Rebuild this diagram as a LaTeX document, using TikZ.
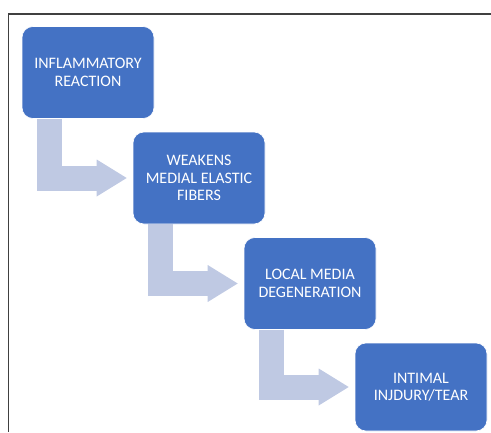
\documentclass[tikz,border=0pt]{standalone}
\usepackage{fontspec}
\setmainfont{Carlito}
\usetikzlibrary{positioning,arrows.meta}
\definecolor{boxblue}{RGB}{68,114,196}
\definecolor{arrowblue}{RGB}{191,201,227}
\definecolor{framegray}{RGB}{64,64,64}

\begin{document}
\begin{tikzpicture}[x=1pt,y=-1pt,
                       box node/.style={rectangle,rounded corners=11pt,fill=boxblue,
                                        draw=white,line width=0.6pt,text=white,
                                        align=center,inner sep=2pt,
                                        minimum width=132pt,minimum height=92pt,
                                        font=\fontsize{16}{17.5}\selectfont},
                       bend arrow/.style={color=arrowblue,line width=25pt,
                                        -{Triangle[length=30pt,width=37pt,line width=0pt]},
                                        shorten >=6pt}
                           ]
   \useasboundingbox (0,0) rectangle (491,432);
   \draw[framegray,line width=1.2pt] (491,14) -- (8.5,14) -- (8.5,432);
   \node[box node] (inflam) at (88,72.5) {INFLAMMATORY\\REACTION};
   \node[box node] (weaken) at (199,178) {WEAKENS\\MEDIAL ELASTIC\\FIBERS};
   \node[box node] (degen) at (310,283.5) {LOCAL MEDIA\\DEGENERATION};
   \node[box node,minimum height=88pt] (tear) at (421,387) {INTIMAL\\INJDURY/TEAR};
   \draw[bend arrow] ([xshift=28pt]inflam.south west) |- (weaken.west);
   \draw[bend arrow] ([xshift=28pt]weaken.south west) |- (degen.west);
   \draw[bend arrow] ([xshift=28pt]degen.south west) |- (tear.west);
\end{tikzpicture}
\end{document}
